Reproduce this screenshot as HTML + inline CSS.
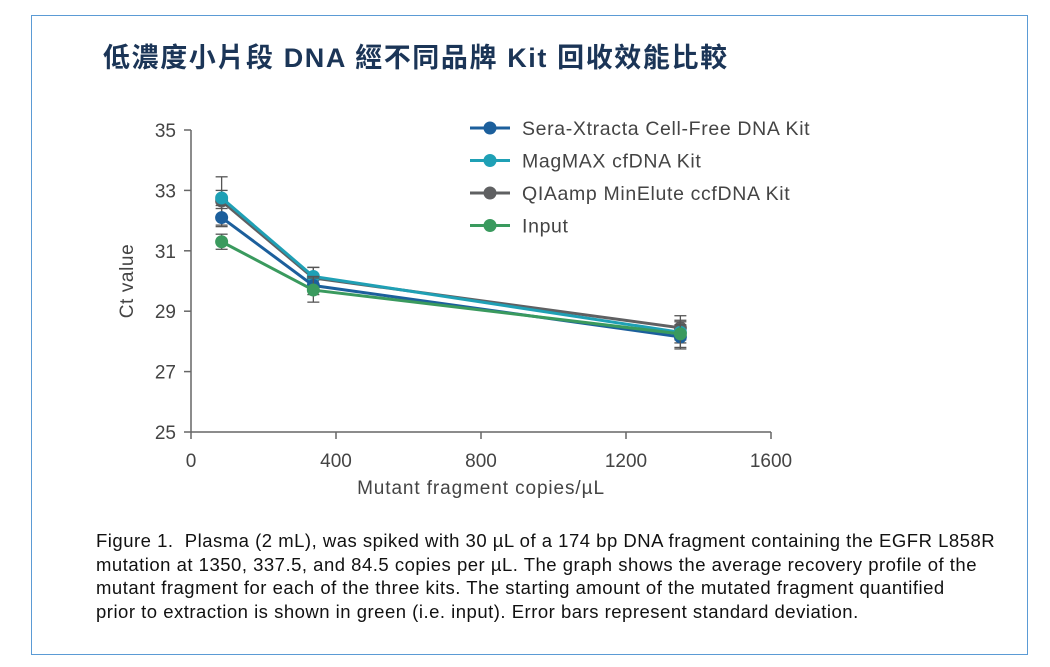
<!DOCTYPE html>
<html><head><meta charset="utf-8"><style>
body{margin:0;background:#fff;width:1050px;height:667px;overflow:hidden;font-family:"Liberation Sans","Noto Sans CJK TC",sans-serif}
#frame{position:absolute;left:31px;top:15px;width:997px;height:640px;border:1.5px solid #5b9bd5;box-sizing:border-box}
#title{position:absolute;left:103px;top:36px;font-size:27px;letter-spacing:1.6px;font-weight:bold;color:#1b3557;font-family:"Liberation Sans","Noto Sans CJK TC",sans-serif;white-space:nowrap}
#cap{position:absolute;left:96px;top:529px;font-size:18.5px;letter-spacing:0.5px;line-height:23.5px;color:#111;font-family:"Liberation Sans",sans-serif;white-space:nowrap}
svg{position:absolute;left:0;top:0}
</style></head><body>
<div id="frame"></div>
<div id="title">低濃度小片段 DNA 經不同品牌 Kit 回收效能比較</div>
<svg id="chart" width="1050" height="667"></svg>
<div id="cap">Figure 1.&nbsp; Plasma (2 mL), was spiked with 30 µL of a 174 bp DNA fragment containing the EGFR L858R<br>mutation at 1350, 337.5, and 84.5 copies per µL. The graph shows the average recovery profile of the<br>mutant fragment for each of the three kits. The starting amount of the mutated fragment quantified<br>prior to extraction is shown in green (i.e. input). Error bars represent standard deviation.</div>
<script>
const xValues=[84.5,337.5,1350];
const seriesNames=["Sera-Xtracta Cell-Free DNA Kit","MagMAX cfDNA Kit","QIAamp MinElute ccfDNA Kit","Input"];
const seriesColors=["#1c5f9c","#1fa0b5","#5f6062","#3a9a5e"];
const sera=[32.1,29.85,28.15];
const magmax=[32.75,30.15,28.3];
const qiamp=[32.65,30.1,28.45];
const input=[31.3,29.7,28.25];
const seraErr=[0.3,0.3,0.4];
const magmaxErr=[0.25,0.3,0.35];
const qiampErr=[0.8,0.35,0.4];
const inputErr=[0.25,0.4,0.45];
const xTicks=[0,400,800,1200,1600];
const yTicks=[25,27,29,31,33,35];
const NS="http://www.w3.org/2000/svg";
const svg=document.getElementById('chart');
const X=v=>191+v*(771-191)/1600;
const Y=v=>432-(v-25)*(432-130)/10;
function mk(t,a,p){const e=document.createElementNS(NS,t);for(const k in a)e.setAttribute(k,a[k]);(p||svg).appendChild(e);return e;}
const ax="#666";
let e=mk('line',{x1:191,y1:Y(35),x2:191,y2:Y(25),stroke:ax,'stroke-width':1.5});


e=mk('line',{x1:191,y1:Y(25),x2:771,y2:Y(25),stroke:ax,'stroke-width':1.5});


yTicks.forEach(t=>{mk('line',{x1:184,y1:Y(t),x2:191,y2:Y(t),stroke:ax,'stroke-width':1.5});
 const tx=mk('text',{x:176,y:Y(t)+7,'text-anchor':'end','font-size':19,fill:'#444'});tx.textContent=t;
 
 });
xTicks.forEach(t=>{mk('line',{x1:X(t),y1:Y(25),x2:X(t),y2:Y(25)+7,stroke:ax,'stroke-width':1.5});
 const tx=mk('text',{x:X(t),y:467,'text-anchor':'middle','font-size':19,fill:'#444'});tx.textContent=t;
 
 });
e=mk('text',{x:481,y:494,'text-anchor':'middle','font-size':19,fill:'#444','letter-spacing':0.9});e.textContent='Mutant fragment copies/µL';


e=mk('text',{x:133,y:281,'text-anchor':'middle','font-size':19,fill:'#444','letter-spacing':0.6,transform:'rotate(-90 133 281)'});e.textContent='Ct value';


const all=[sera,magmax,qiamp,input], errs=[seraErr,magmaxErr,qiampErr,inputErr];
[2,1,0,3].forEach(i=>{const g=mk('g',{});
 
 
 const vals=all[i];
 vals.forEach((v,j)=>{const x=X(xValues[j]),e1=Y(v+errs[i][j]),e2=Y(v-errs[i][j]);
  mk('line',{x1:x,y1:e1,x2:x,y2:e2,stroke:'#555','stroke-width':1.3},g);
  mk('line',{x1:x-6,y1:e1,x2:x+6,y2:e1,stroke:'#555','stroke-width':1.3},g);
  mk('line',{x1:x-6,y1:e2,x2:x+6,y2:e2,stroke:'#555','stroke-width':1.3},g);});
 mk('polyline',{points:vals.map((v,j)=>X(xValues[j])+','+Y(v)).join(' '),fill:'none',stroke:seriesColors[i],'stroke-width':3},g);
 vals.forEach((v,j)=>{const c=mk('circle',{cx:X(xValues[j]),cy:Y(v),r:6.5,fill:seriesColors[i]},g);
  
  });
});
seriesNames.forEach((n,i)=>{const y=128+i*32.5;const g=mk('g',{});
 
 
 mk('line',{x1:470,y1:y,x2:510,y2:y,stroke:seriesColors[i],'stroke-width':3},g);
 mk('circle',{cx:490,cy:y,r:6.5,fill:seriesColors[i]},g);
 const t=mk('text',{x:522,y:y+7,'font-size':19.5,fill:'#444','letter-spacing':0.65},g);t.textContent=n;});
</script>
</body></html>
